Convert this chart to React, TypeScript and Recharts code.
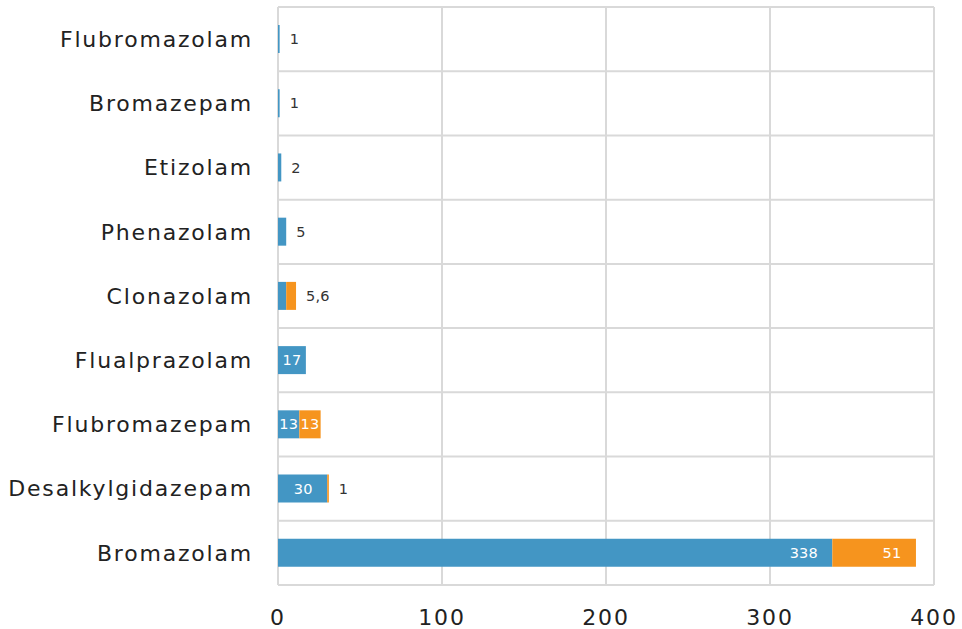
import { BarChart, Bar, XAxis, YAxis, CartesianGrid } from 'recharts';

const categories = [
  'Flubromazolam',
  'Bromazepam',
  'Etizolam',
  'Phenazolam',
  'Clonazolam',
  'Flualprazolam',
  'Flubromazepam',
  'Desalkylgidazepam',
  'Bromazolam',
];
const blueValues = [1, 1, 2, 5, 5, 17, 13, 30, 338];
const orangeValues = [0, 0, 0, 0, 6, 0, 13, 1, 51];
const xTicks = [0, 100, 200, 300, 400];

const BLUE = '#4396c4';
const ORANGE = '#f6941e';
const FONT = '"DejaVu Sans", sans-serif';

const data = categories.map((name, i) => ({ name, blue: blueValues[i], orange: orangeValues[i] }));

const textWidth = (s: string) => s.length * 9;
const fits = (s: string, width: number) => width >= textWidth(s) + 2;

// right-aligned with padding, but never left of the segment's centre
const insideX = (x: number, w: number, s: string) =>
  Math.max(x + w / 2, x + w - 15 - textWidth(s) / 2);

const valueText = (key: string, x: number, y: number, s: string, inside: boolean) => (
  <text
    key={key}
    x={x}
    y={y}
    dy="0.35em"
    textAnchor={inside ? 'middle' : 'start'}
    fill={inside ? '#fff' : '#333'}
    fontSize={14.5}
    fontFamily={FONT}
    letterSpacing={0.2}
  >
    {s}
  </text>
);

// one renderer for both segments of a row, using the blue segment's scaled width
const renderRowLabels = (props: any) => {
  const { x, y, width, height, index } = props;
  const b = blueValues[index];
  const o = orangeValues[index];
  const perUnit = width / b;
  const ow = o * perUnit;
  const cy = y + height / 2;
  const end = x + width + ow;
  const out: any[] = [];
  const bs = String(b);
  const os = String(o);
  const blueIn = fits(bs, width);
  if (blueIn) out.push(valueText('b', insideX(x, width, bs), cy, bs, true));
  if (o > 0) {
    if (fits(os, ow)) out.push(valueText('o', insideX(x + width, ow, os), cy, os, true));
    else out.push(valueText('o', end + 10, cy, blueIn ? os : `${bs},${os}`, false));
  } else if (!blueIn) {
    out.push(valueText('b', end + 10, cy, bs, false));
  }
  return <g>{out}</g>;
};

export default function App() {
  return (
    <div style={{ position: 'absolute', left: 0, top: 0, background: '#fff' }}>
      <BarChart
        width={962}
        height={629}
        data={data}
        layout="vertical"
        margin={{ top: 7, right: 28, bottom: 0, left: 0 }}
        barSize={28}
      >
        <CartesianGrid
          stroke="#d9d9d9"
          strokeWidth={2}
          horizontalCoordinatesGenerator={({ offset }: any) =>
            Array.from({ length: categories.length + 1 }, (_, i) => offset.top + (i * offset.height) / categories.length)
          }
        />
        <XAxis
          type="number"
          domain={[0, 400]}
          ticks={xTicks}
          height={44}
          axisLine={false}
          tickLine={false}
          tickSize={0}
          tickMargin={24}
          tick={{ fill: '#222', fontSize: 22, fontFamily: FONT, letterSpacing: 1.8 }}
        />
        <YAxis
          type="category"
          dataKey="name"
          width={278}
          axisLine={false}
          tickLine={false}
          tickSize={0}
          tickMargin={25}
          tick={{ fill: '#222', fontSize: 22, fontFamily: FONT, letterSpacing: 1.8 }}
        />
        <Bar dataKey="blue" stackId="s" fill={BLUE} isAnimationActive={false} label={renderRowLabels} />
        <Bar dataKey="orange" stackId="s" fill={ORANGE} isAnimationActive={false} />
      </BarChart>
    </div>
  );
}
